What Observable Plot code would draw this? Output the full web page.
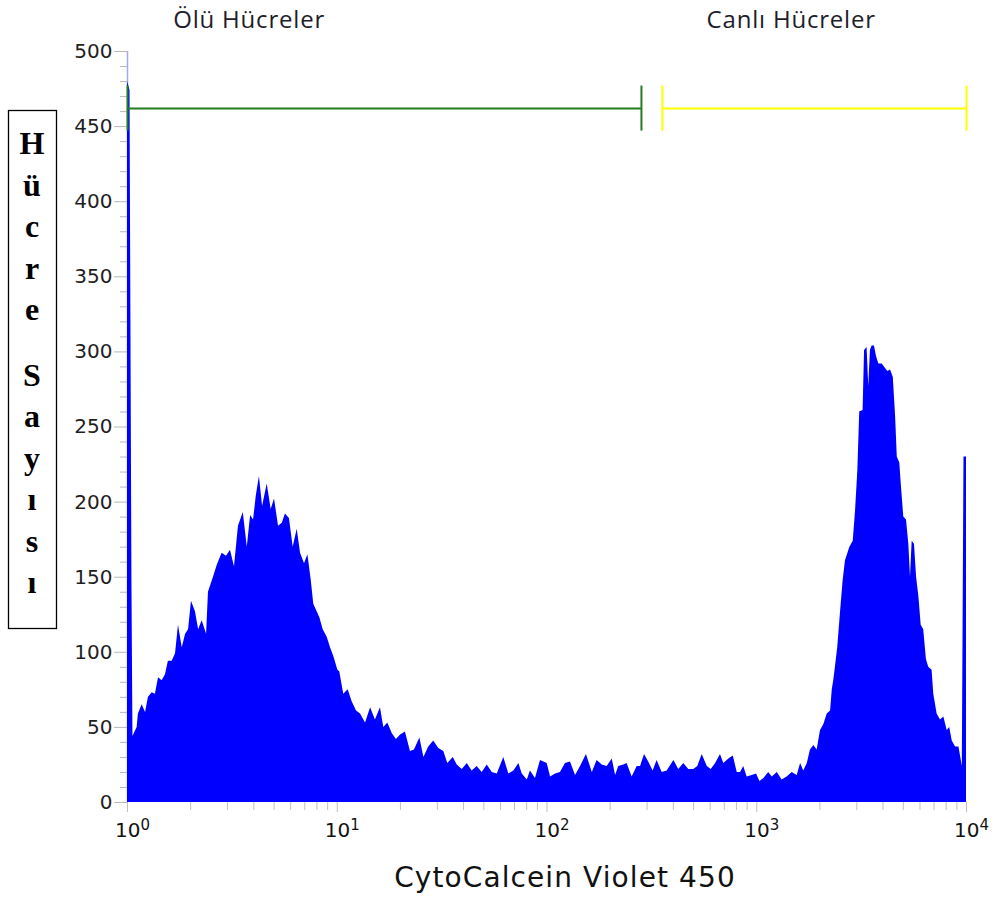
<!DOCTYPE html>
<html>
<head>
<meta charset="utf-8">
<script src="https://cdn.jsdelivr.net/npm/d3@7"></script>
<script src="https://cdn.jsdelivr.net/npm/@observablehq/plot@0.6"></script>
<style>
  body { margin: 0; background: #fff; }
</style>
</head>
<body>
<div id="chart"></div>
<script>
// Fluorescence channel (log10 of CytoCalcein Violet 450 intensity) and events per channel
const logIntensity = [
  0.000, 0.012, 0.021, 0.026, 0.046, 0.052, 0.070, 0.086, 0.100, 0.118,
  0.133, 0.148, 0.165, 0.181, 0.195, 0.213, 0.229, 0.243, 0.261, 0.277,
  0.291, 0.305, 0.324, 0.339, 0.356, 0.377, 0.386, 0.410, 0.428, 0.451,
  0.472, 0.491, 0.510, 0.529, 0.552, 0.571, 0.587, 0.601, 0.614, 0.629,
  0.644, 0.666, 0.685, 0.701, 0.720, 0.738, 0.753, 0.772, 0.790, 0.809,
  0.825, 0.844, 0.860, 0.876, 0.888, 0.917, 0.933, 0.952, 0.968, 0.984,
  1.003, 1.012, 1.031, 1.052, 1.071, 1.092, 1.111, 1.135, 1.159, 1.182,
  1.206, 1.222, 1.241, 1.262, 1.282, 1.302, 1.325, 1.349, 1.368, 1.394,
  1.413, 1.436, 1.460, 1.484, 1.508, 1.527, 1.553, 1.572, 1.596, 1.620,
  1.643, 1.667, 1.691, 1.715, 1.739, 1.763, 1.794, 1.818, 1.842, 1.866,
  1.882, 1.906, 1.921, 1.945, 1.969, 2.001, 2.017, 2.041, 2.064, 2.088,
  2.112, 2.136, 2.160, 2.188, 2.216, 2.239, 2.263, 2.287, 2.311, 2.327,
  2.342, 2.366, 2.382, 2.406, 2.430, 2.446, 2.465, 2.485, 2.506, 2.525,
  2.549, 2.573, 2.605, 2.628, 2.652, 2.676, 2.700, 2.719, 2.740, 2.764,
  2.783, 2.804, 2.827, 2.843, 2.867, 2.888, 2.907, 2.923, 2.938, 2.954,
  2.978, 2.999, 3.015, 3.034, 3.057, 3.074, 3.098, 3.121, 3.145, 3.169,
  3.193, 3.209, 3.224, 3.241, 3.256, 3.272, 3.288, 3.304, 3.320, 3.336,
  3.352, 3.360, 3.367, 3.375, 3.386, 3.399, 3.412, 3.423, 3.444, 3.460,
  3.471, 3.482, 3.491, 3.507, 3.514, 3.526, 3.534, 3.542, 3.550, 3.561,
  3.571, 3.582, 3.598, 3.614, 3.625, 3.638, 3.651, 3.662, 3.670, 3.682,
  3.689, 3.701, 3.714, 3.725, 3.733, 3.741, 3.752, 3.762, 3.773, 3.784,
  3.796, 3.809, 3.820, 3.836, 3.844, 3.860, 3.876, 3.892, 3.908, 3.920,
  3.932, 3.948, 3.964, 3.980, 3.988, 4.000
];
const cellCount = [
  480, 474, 150, 44, 50, 59, 65, 60, 70, 73,
  72, 83, 81, 85, 94, 94, 99, 118, 103, 112,
  115, 134, 127, 115, 121, 112, 140, 150, 158, 166,
  164, 168, 157, 184, 193, 170, 191, 188, 204, 217,
  197, 212, 195, 202, 184, 186, 192, 189, 170, 182,
  166, 159, 165, 148, 132, 123, 115, 110, 103, 97,
  88, 87, 72, 75, 67, 61, 59, 53, 63, 55,
  63, 50, 53, 46, 42, 45, 47, 34, 35, 43,
  30, 37, 41, 36, 34, 26, 30, 25, 22, 26,
  21, 24, 20, 25, 20, 19, 30, 19, 21, 26,
  19, 15, 21, 16, 28, 26, 17, 19, 20, 26,
  27, 18, 24, 32, 20, 28, 25, 24, 29, 18,
  24, 25, 26, 17, 24, 24, 32, 27, 21, 28,
  20, 21, 28, 22, 26, 22, 22, 24, 32, 24,
  22, 26, 32, 26, 29, 31, 20, 20, 24, 17,
  18, 19, 14, 16, 20, 17, 20, 15, 17, 20,
  18, 26, 21, 26, 35, 38, 35, 48, 52, 59,
  61, 75, 81, 90, 103, 126, 148, 161, 170, 174,
  194, 221, 260, 261, 301, 303, 277, 301, 304, 304,
  297, 292, 292, 289, 287, 288, 283, 257, 230, 226,
  212, 190, 188, 172, 150, 174, 172, 150, 137, 118,
  115, 95, 90, 88, 72, 59, 55, 57, 48, 50,
  41, 37, 37, 24, 230, 230
];

// Axis ticks
const yMajorTicks = [0, 50, 100, 150, 200, 250, 300, 350, 400, 450, 500];
const yMinorTicks = d3.range(0, 501, 10).filter(v => v % 50 !== 0);
const xMajorTicks = [1, 10, 100, 1000, 10000];
const xMinorTicks = [1, 10, 100, 1000].flatMap(p => d3.range(2, 10).map(m => m * p));

// Gates (intensity ranges) drawn above the histogram
const gateNames = ["Ölü Hücreler", "Canlı Hücreler"];
const gateFrom = [1, 355];
const gateTo = [282, 10000];
const gateLevel = 462;
const gateCapLow = 447;
const gateCapHigh = 477;

const yTitle = "Hücre Sayısı";
const xTitle = "CytoCalcein Violet 450";

const bins = logIntensity.map((lx, i) => ({intensity: 10 ** lx, count: cellCount[i]}));
const gates = gateNames.map((name, i) => ({name, from: gateFrom[i], to: gateTo[i]}));
const gateEnds = gates.flatMap(g => [{name: g.name, at: g.from}, {name: g.name, at: g.to}]);

const chart = Plot.plot({
  width: 995,
  height: 900,
  marginLeft: 127,
  marginRight: 29,
  marginTop: 51,
  marginBottom: 98,
  style: {fontFamily: "DejaVu Sans", fontSize: "20px", color: "#222", background: "#fff", overflow: "visible"},
  x: {type: "log", domain: [1, 10000], label: null},
  y: {domain: [0, 500], label: null},
  color: {domain: gateNames, range: ["#237d23", "#ffff00"]},
  marks: [
    Plot.ruleX([1], {stroke: "#a6a8f4", strokeWidth: 1.5}),
    Plot.areaY(bins, {x: "intensity", y: "count", curve: "linear", fill: "#0000ff"}),
    Plot.axisY({ticks: yMinorTicks, tickSize: 7, tickFormat: () => "", stroke: "#b8b8b8", label: null}),
    Plot.axisY({ticks: yMajorTicks, tickSize: 13, tickPadding: 2, stroke: "#b8b8b8", fill: "#1e1e1e", label: null}),
    Plot.axisX({ticks: xMinorTicks, tickSize: 8, tickFormat: () => "", stroke: "#c0c0c0", label: null}),
    Plot.axisX({ticks: xMajorTicks, tickSize: 10, tickPadding: 10,
      tickFormat: d => "10^" + Math.round(Math.log10(d)), stroke: "#c0c0c0", fill: "#111", label: null}),
    Plot.ruleY(gates, {y: gateLevel, x1: "from", x2: "to", stroke: "name", strokeWidth: 2}),
    Plot.ruleX(gateEnds, {x: "at", y1: gateCapLow, y2: gateCapHigh, stroke: "name", strokeWidth: 2}),
    Plot.text(gates, {x: [3.8, 1460], frameAnchor: "top", lineAnchor: "middle", dy: -31, text: "name",
      fontFamily: "Open Sans", fontSize: 24, fill: "#1d1d2b"}),
    Plot.text([xTitle], {frameAnchor: "bottom", lineAnchor: "middle", dx: 18, dy: 76, text: d => d,
      fontFamily: "DejaVu Sans", fontSize: 28, fill: "#111"})
  ]
});

const svg = d3.select(chart);

svg.selectAll("text").each(function () {
  const t = d3.select(this);
  const s = this.textContent;
  if (/^10\^\d$/.test(s)) {
    // Decade labels as 10 with a raised exponent
    t.text("").attr("dx", 5);
    t.append("tspan").text("10");
    t.append("tspan").attr("font-size", 15).attr("dy", "-0.45em").text(s.slice(3));
  } else if (gateNames.includes(s)) {
    t.attr("letter-spacing", 0.8);
  } else if (s === xTitle) {
    t.attr("letter-spacing", 1.1);
  }
});

// Boxed vertical y-axis title, one letter per line
const titleBox = svg.append("g").attr("aria-label", "y-axis title");
titleBox.append("rect")
  .attr("x", 8.5).attr("y", 110.5).attr("width", 48).attr("height", 518)
  .attr("fill", "none").attr("stroke", "#000").attr("stroke-width", 1.3);
const letters = titleBox.append("text")
  .attr("font-family", "Liberation Serif").attr("font-weight", "bold")
  .attr("font-size", 32).attr("fill", "#000").attr("text-anchor", "middle");
let baseline = 154;
for (const ch of yTitle) {
  if (ch === " ") { baseline += 24; continue; }
  letters.append("tspan").attr("x", 32).attr("y", baseline).text(ch);
  baseline += 41.5;
}

document.getElementById("chart").append(chart);
</script>
</body>
</html>
